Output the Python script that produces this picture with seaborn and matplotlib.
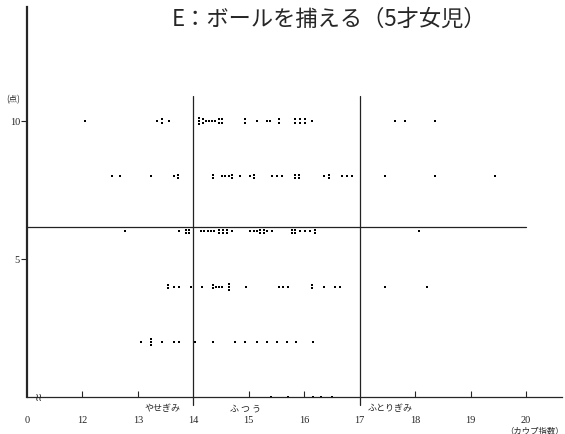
import matplotlib
matplotlib.use("Agg")
import matplotlib.pyplot as plt
import matplotlib.transforms as mtransforms
import numpy as np
import pandas as pd
import seaborn as sns

# Kaup index of each child, grouped by the ball-catching score (points)
kaup_score10 = [12.05, 13.35, 13.43, 13.43, 13.57,
                14.10, 14.10, 14.10, 14.17, 14.17, 14.22, 14.29, 14.34, 14.40,
                14.47, 14.47, 14.52, 14.52, 14.94, 14.94, 15.15, 15.33, 15.39,
                15.55, 15.55, 15.84, 15.84, 15.93, 15.93, 16.02, 16.02, 16.14,
                17.64, 17.82, 18.36]
kaup_score8 = [12.54, 12.67, 13.24, 13.66, 13.73, 13.73,
               14.36, 14.36, 14.52, 14.58, 14.65, 14.70, 14.70, 14.85, 15.03,
               15.10, 15.10, 15.42, 15.51, 15.60, 15.84, 15.84, 15.91, 15.91,
               16.36, 16.45, 16.45, 16.68, 16.77, 16.86,
               17.46, 18.36, 19.44]
kaup_score6 = [12.76, 13.75, 13.86, 13.86, 13.93, 13.93,
               14.13, 14.20, 14.26, 14.31, 14.38, 14.47, 14.47, 14.54, 14.54,
               14.61, 14.61, 14.70, 15.03, 15.10, 15.15, 15.21, 15.21, 15.28,
               15.28, 15.33, 15.42, 15.78, 15.78, 15.84, 15.84, 15.93, 16.02,
               16.11, 16.20, 16.20,
               18.07]
kaup_score4 = [13.55, 13.55, 13.66, 13.75, 13.95,
               14.16, 14.36, 14.36, 14.41, 14.47, 14.52, 14.65, 14.65, 14.65,
               14.95, 15.55, 15.62, 15.71, 16.14, 16.14, 16.36, 16.56, 16.65,
               17.46, 18.22]
kaup_score2 = [13.05, 13.24, 13.24, 13.24, 13.44, 13.66, 13.75,
               14.03, 14.36, 14.76, 14.94, 15.15, 15.33, 15.51, 15.69, 15.86,
               16.16]
kaup_score0 = [15.40, 15.70, 16.15, 16.30, 16.50]

scores = [10, 8, 6, 4, 2, 0]
kaup_by_score = [kaup_score10, kaup_score8, kaup_score6,
                 kaup_score4, kaup_score2, kaup_score0]

# Reference lines: mean score and Kaup-index category boundaries
mean_score = 6.16
kaup_bounds = [14, 17]
category_names = ["やせぎみ", "ふ つ う", "ふとりぎみ"]
category_centers = [13.45, 14.95, 17.55]

x_ticks = [11, 12, 13, 14, 15, 16, 17, 18, 19, 20]
x_tick_labels = ["0", "12", "13", "14", "15", "16", "17", "18", "19", "20"]
y_ticks = [5, 10]

title = "E：ボールを捕える（5才女児）"
y_unit = "(点)"
x_unit = "（カウプ指数）"

rows = []
for s, ks in zip(scores, kaup_by_score):
    for k in ks:
        rows.append({"score": s, "kaup": k})
df = pd.DataFrame(rows)
# children with identical values are stacked into little columns of dots
grp = df.groupby(["score", "kaup"])
df["k"] = grp.cumcount()
df["n"] = grp["kaup"].transform("size")
df["y"] = df["score"] + (df["k"] - (df["n"] - 1) / 2) * 0.11

sns.set_style("ticks")
plt.rcParams["font.family"] = ["Liberation Serif", "Noto Sans CJK JP", "DejaVu Sans"]

fig = plt.figure(figsize=(5.65, 4.35), dpi=100)
ax = fig.add_axes([27 / 565, 1 - 398 / 435, (562 - 27) / 565, (398 - 8) / 435])

ax.axhline(mean_score, xmin=0, xmax=(20 - 11) / (20.65 - 11), color="#222222", lw=0.9)
for b in kaup_bounds:
    ax.plot([b, b], [-0.3, 10.9], color="#222222", lw=0.9, clip_on=False)

sns.scatterplot(data=df, x="kaup", y="y", color="black", marker="s", s=3,
                linewidth=0, ax=ax, legend=False)

ax.set_xlim(11.0, 20.65)
ax.set_ylim(0, 14.13)
ax.set_xlabel("")
ax.set_ylabel("")
sns.despine(ax=ax)
ax.spines["left"].set_linewidth(1.6)
ax.spines["bottom"].set_linewidth(0.9)

ax.set_xticks(x_ticks)
ax.set_xticklabels(x_tick_labels, fontsize=7.5)
ax.tick_params(axis="x", direction="in", length=4, width=0.8, pad=13)
for t, v in zip(ax.xaxis.get_major_ticks(), x_ticks):
    if v in (11, 14, 17):
        t.tick1line.set_visible(False)
ax.set_yticks(y_ticks)
ax.set_yticklabels([str(v) for v in y_ticks], fontsize=7.5)
ax.tick_params(axis="y", direction="out", length=4, width=0.8, pad=1)

# broken-axis mark just right of the origin
ax.text(11.22, 0.0, "≀≀", fontsize=8, ha="center", va="center",
        family=["DejaVu Sans"])

lbl_trans = mtransforms.blended_transform_factory(ax.transData, fig.transFigure)
for name, cx in zip(category_names, category_centers):
    ax.text(cx, 1 - 409 / 435, name, transform=lbl_trans, fontsize=6.5,
            ha="center", va="center", family=["Noto Sans CJK JP"])
ax.text(20.15, 1 - 431 / 435, x_unit, transform=lbl_trans, fontsize=6,
        ha="center", va="center", family=["Noto Sans CJK JP"])

unit_trans = mtransforms.blended_transform_factory(fig.transFigure, ax.transData)
ax.text(13 / 565, 10.8, y_unit, transform=unit_trans, fontsize=6,
        ha="center", va="center", family=["Noto Sans CJK JP"])

fig.text(329 / 565, 1 - 19 / 435, title, fontsize=16, ha="center", va="center",
         family=["Noto Sans CJK JP", "DejaVu Sans"])

fig.savefig("out.png", dpi=100)
